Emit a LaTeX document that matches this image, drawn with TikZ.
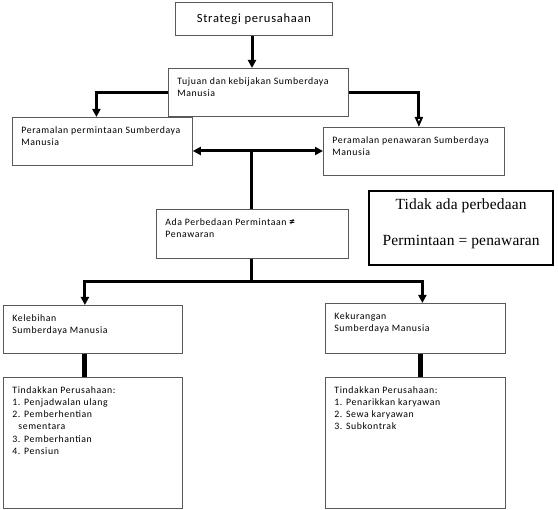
\documentclass[tikz,border=0pt]{standalone}
\usepackage{fontspec}
\setmainfont{Carlito}[LetterSpace=6]
\newfontfamily\timesfont{Liberation Serif}[LetterSpace=1]
\usetikzlibrary{arrows.meta}

\begin{document}
\begin{tikzpicture}[x=1pt, y=-1pt, >={Triangle[width=8pt,length=8pt]}]
	\tikzstyle{box}=[draw=black!65, line width=0.8pt, fill=white, anchor=north west, inner xsep=9pt, inner ysep=9pt, font=\fontsize{9.8}{12.2}\selectfont]
	\tikzstyle{bold box}=[box, draw=black, line width=2.2pt]
	\tikzstyle{conn}=[line width=3pt, draw=black]
	\tikzstyle{link}=[line width=5pt, draw=black]
	
	\useasboundingbox (0,0) rectangle (558,510);
	
	% Draw the top boxes
	\node[box, inner ysep=5pt, minimum width=157pt, minimum height=33pt, font=\fontsize{12.5}{14}\selectfont] (strategi) at (175,2) {Strategi perusahaan};
	\node[box] (tujuan) at (168,68) {\parbox[t][30pt][t]{162pt}{Tujuan dan kebijakan Sumberdaya\\Manusia}};
	
	% Draw the forecasts
	\node[box] (permintaan) at (12,117) {\parbox[t][30pt][t]{162pt}{Peramalan permintaan Sumberdaya\\Manusia}};
	\node[box] (penawaran) at (323,127) {\parbox[t][30pt][t]{163pt}{Peramalan penawaran Sumberdaya\\Manusia}};
	
	% Draw the comparison
	\node[box] (beda) at (156,209) {\parbox[t][31pt][t]{174pt}{Ada Perbedaan Permintaan {\bfseries\fontsize{11}{12}\selectfont ≠}\\Penawaran}};
	\node[bold box, inner ysep=8pt, font=\timesfont\fontsize{15.5}{18}\selectfont] (tidak) at (368,190) {\parbox[t][58pt][t]{166pt}{\centering Tidak ada perbedaan\\[18pt]Permintaan = penawaran}};
	
	% Draw the two cases
	\node[box] (lebih) at (3,305) {\parbox[t][30pt][t]{161pt}{Kelebihan\\Sumberdaya Manusia}};
	\node[box] (kurang) at (325,303) {\parbox[t][32pt][t]{162pt}{Kekurangan\\Sumberdaya Manusia}};
	\node[box] (tindak1) at (3,377) {\parbox[t][113pt][t]{161pt}{Tindakkan Perusahaan:\\1. Penjadwalan ulang\\2. Pemberhentian\\\hspace*{6pt}sementara\\3. Pemberhantian\\4. Pensiun}};
	\node[box] (tindak2) at (325,377) {\parbox[t][113pt][t]{162pt}{Tindakkan Perusahaan:\\1. Penarikkan karyawan\\2. Sewa karyawan\\3. Subkontrak}};
	
	% Draw arrows
	\draw[conn, ->] (strategi.south -| 252,0) -- (252,0 |- tujuan.north);
	\draw[conn, ->] (tujuan.west) -| ([xshift=-6pt]permintaan.north);
	\draw[conn, -{Triangle[open, width=8pt, length=10pt, line width=2pt]}] (tujuan.east) -| ([xshift=5pt]penawaran.north);
	\coordinate (mid) at (251,151);
	\draw[conn, <->] (permintaan.east |- mid) -- (penawaran.west |- mid);
	\draw[conn] (mid) -- (mid |- beda.north);
	\draw[conn] (beda.south -| mid) -- ++(0,23) coordinate (split);
	\draw[conn, ->] (split) -| ([xshift=-8pt]lebih.north);
	\draw[conn, ->] (split) -| ([xshift=7pt]kurang.north);
	\draw[link] ([xshift=-8pt]lebih.south) -- ([xshift=-8pt]lebih.south |- tindak1.north);
	\draw[link] ([xshift=5pt]kurang.south) -- ([xshift=5pt]kurang.south |- tindak2.north);
\end{tikzpicture}
\end{document}
